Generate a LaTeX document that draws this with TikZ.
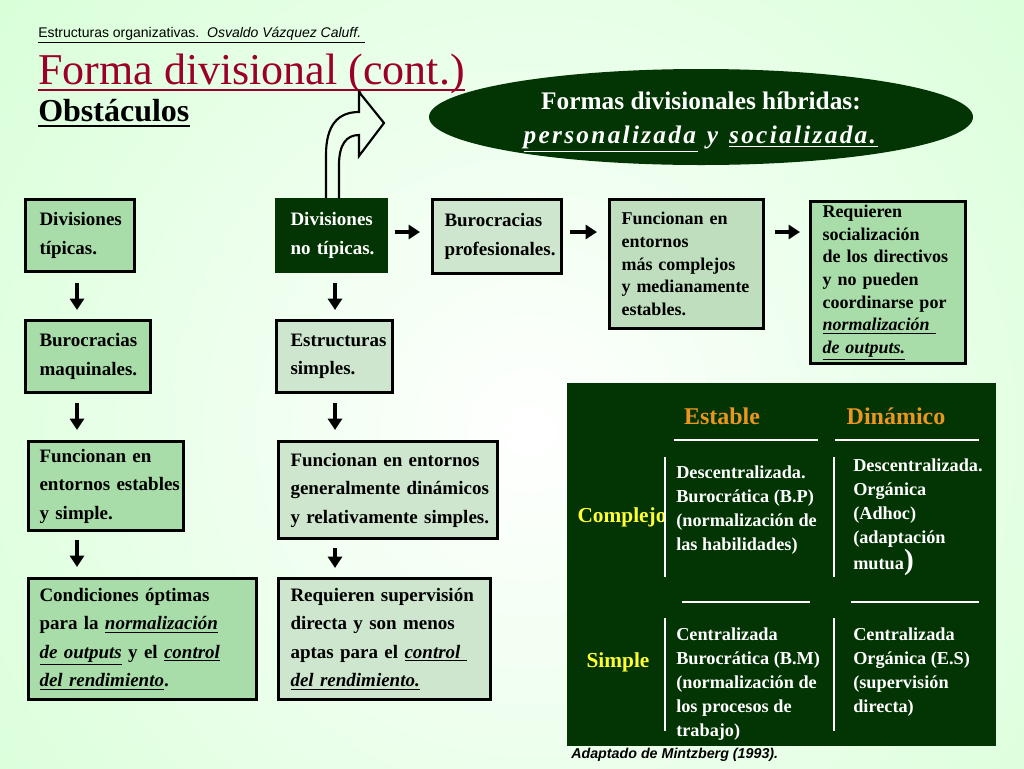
\documentclass[tikz,border=0pt]{standalone}
\usepackage{fontspec}
\setmainfont{Liberation Serif}
\setsansfont{Liberation Sans}
\usetikzlibrary{arrows.meta,shapes.geometric,calc}
\definecolor{bgg}{RGB}{204,255,204}
\definecolor{dkg}{RGB}{3,52,3}
\definecolor{medg}{RGB}{168,220,168}
\definecolor{ltg}{RGB}{206,230,206}
\definecolor{midg}{RGB}{190,222,190}
\definecolor{ttlred}{RGB}{155,0,42}
\definecolor{orng}{RGB}{235,150,30}
\definecolor{yell}{RGB}{255,255,51}
\def\PXU{0.75pt}
\tikzset{
  box/.style={draw=black, line width=2.25pt, anchor=north west, align=left, inner sep=0pt,
    text=black, font=\fontsize{14.25pt}{21.4pt}\selectfont\bfseries},
  smallbox/.style={box, font=\fontsize{13.5pt}{17pt}\selectfont\bfseries},
  arr/.style={line width=3pt, -{Triangle[length=8.5pt,width=10.5pt]}},
  cell/.style={anchor=west, align=left, text=white, inner sep=0pt,
    font=\fontsize{13.7pt}{18pt}\selectfont\bfseries},
  mline/.style={draw=white, line width=1.2pt},
}
\begin{document}
\lefthyphenmin=64 \righthyphenmin=64 \hyphenpenalty=10000 \exhyphenpenalty=10000 \hfuzz=50pt
\begin{tikzpicture}[x=0.75pt,y=-0.75pt]
\useasboundingbox (0,0) rectangle (1024,768);
% background
\begin{scope}
  \clip (0,0) rectangle (1024,768);
  \fill[bgg] (0,0) rectangle (1024,768);
  \shade[inner color=white, outer color=bgg] (530,430) circle (900);
\end{scope}

% header
\node[anchor=west, inner sep=0pt, font=\sffamily\fontsize{10.5pt}{12pt}\selectfont] (hdr) at (38,35)
  {\underline{Estructuras organizativas.\ \ \textit{Osvaldo Vázquez Caluff.}\ }};
\node[anchor=base west, inner sep=0pt, text=ttlred, font=\fontsize{33pt}{36pt}\selectfont] (ttl) at (38,84)
  {Forma divisional (cont.)};
\draw[ttlred, line width=1.5pt] ([yshift=-4.5pt]ttl.base west) -- ([yshift=-4.5pt]ttl.base east);
\node[anchor=base west, inner sep=0pt, font=\fontsize{24pt}{28pt}\selectfont\bfseries] (obs) at (38,121)
  {Obstáculos};
\draw[black, line width=1.5pt] ([yshift=-3.75pt]obs.base west) -- ([yshift=-3.75pt]obs.base east);

% ellipse
\node[ellipse, fill=dkg, minimum width=544*\PXU, minimum height=96*\PXU, inner sep=0pt] (ell) at (701,117) {};
\node[inner sep=0pt, text=white, align=center, font=\fontsize{19pt}{25.5pt}\selectfont\bfseries] (ellt) at (701,122)
  {Formas divisionales híbridas:\\{\addfontfeatures{LetterSpace=9}\underline{\textit{personalizada}} \textit{y} \underline{\textit{socializada.}}}};

% boxes
\node[box, fill=medg, minimum width=109*\PXU, text width=81*\PXU, minimum height=72*\PXU] (b1) at (24,198) {Divisiones\\típicas.};
\node[box, fill=dkg, draw=dkg, text=white, minimum width=110*\PXU, text width=82*\PXU, minimum height=72*\PXU] (b2) at (275,198) {Divisiones\\no~típicas.};
\node[box, fill=ltg, minimum width=129*\PXU, text width=105*\PXU, minimum height=74*\PXU] (b3) at (431,198) {Burocracias\\profesionales.};
\node[smallbox, fill=midg, minimum width=154*\PXU, text width=130*\PXU, minimum height=129*\PXU] (b4) at (608,198)
  {Funcionan~en\\entornos\\más~complejos\\y~medianamente\\estables.};
\node[smallbox, fill=medg, minimum width=155*\PXU, text width=131*\PXU, minimum height=162*\PXU] (b5) at (809,200)
  {Requieren\\socialización\\de~los~directivos\\y~no~pueden\\coordinarse~por\\\underline{\textit{normalización~}}\\\underline{\textit{de~outputs.}}};
\node[box, fill=medg, minimum width=125*\PXU, text width=97*\PXU, minimum height=72*\PXU] (b6) at (24,319) {Burocracias\\maquinales.};
\node[box, fill=ltg, minimum width=116*\PXU, text width=88*\PXU, minimum height=72*\PXU] (b7) at (275,319) {Estructuras\\simples.};
\node[box, fill=medg, minimum width=155*\PXU, text width=133*\PXU, minimum height=89*\PXU] (b8) at (27,440)
  {Funcionan~en\\entornos~estables\\y~simple.};
\node[box, fill=ltg, minimum width=219*\PXU, text width=195*\PXU, minimum height=97*\PXU] (b9) at (277,440)
  {Funcionan~en~entornos\\generalmente~dinámicos\\y~relativamente~simples.};
\node[box, fill=medg, minimum width=228*\PXU, text width=206*\PXU, minimum height=121*\PXU] (b10) at (27,577)
  {Condiciones~óptimas\\para~la~\underline{\textit{normalización}}\\\underline{\textit{de~outputs}}~y~el~\underline{\textit{control}}\\\underline{\textit{del~rendimiento}}.};
\node[box, fill=ltg, minimum width=212*\PXU, text width=188*\PXU, minimum height=121*\PXU] (b11) at (277,577)
  {Requieren~supervisión\\directa~y~son~menos\\aptas~para~el~\underline{\textit{control~}}\\\underline{\textit{del~rendimiento.}}};

% curved block arrow
\draw[line width=1.6pt, line join=miter] (326,198) -- (326,155) .. controls (326,125) and (338,112) .. (359,112)
  -- (359,92) -- (384,123) -- (359,156) -- (359,135) .. controls (346,135) and (339,145) .. (339,165) -- (339,198);

% arrows
\coordinate (cl) at (77,0);
\coordinate (cm) at (335,0);
\coordinate (hy) at (0,232);
\draw[arr, shorten <=7.5pt, shorten >=6.75pt] (b1.south -| cl) -- (b6.north -| cl);
\draw[arr, shorten <=6.75pt, shorten >=7.5pt] (b6.south -| cl) -- (b8.north -| cl);
\draw[arr, shorten <=6pt, shorten >=7.5pt] (b8.south -| cl) -- (b10.north -| cl);
\draw[arr, shorten <=7.5pt, shorten >=6.75pt] (b2.south -| cm) -- (b7.north -| cm);
\draw[arr, shorten <=6.75pt, shorten >=7.5pt] (b7.south -| cm) -- (b9.north -| cm);
\draw[arr, shorten <=6pt, shorten >=6.75pt] (b9.south -| cm) -- (b11.north -| cm);
\draw[arr, shorten <=5.25pt, shorten >=8.25pt] (b2.east |- hy) -- (b3.west |- hy);
\draw[arr, shorten <=5.25pt, shorten >=8.25pt] (b3.east |- hy) -- (b4.west |- hy);
\draw[arr, shorten <=7.5pt, shorten >=6.75pt] (b4.east |- hy) -- (b5.west |- hy);

% matrix
\fill[dkg] (567,383) rectangle (996,746);
\node[text=orng, inner sep=0pt, font=\fontsize{18pt}{20pt}\selectfont\bfseries] (est) at (722,416) {Estable};
\node[text=orng, inner sep=0pt, font=\fontsize{18pt}{20pt}\selectfont\bfseries] (din) at (896,416) {Dinámico};
\node[text=yell, inner sep=0pt, font=\fontsize{16pt}{18pt}\selectfont\bfseries] (cmp) at (622,517) {Complejo};
\node[text=yell, inner sep=0pt, font=\fontsize{16pt}{18pt}\selectfont\bfseries] (smp) at (618,662) {Simple};
\draw[mline] (674,440) -- (818,440);
\draw[mline] (835,440) -- (979,440);
\draw[mline] (682,602) -- (810,602);
\draw[mline] (851,602) -- (979,602);
\draw[mline] (665,457) -- (665,577);
\draw[mline] (834,457) -- (834,577);
\draw[mline] (665,618) -- (665,731);
\draw[mline] (834,618) -- (834,731);
\node[cell] (c11) at (676,510) {Descentralizada.\\Burocrática (B.P)\\(normalización de\\las habilidades)};
\node[cell] (c12) at (853,517) {Descentralizada.\\Orgánica\\(Adhoc)\\(adaptación\\mutua{\fontsize{22pt}{18pt}\selectfont)}};
\node[cell] (c21) at (676,684) {Centralizada\\Burocrática (B.M)\\(normalización de\\los procesos de\\trabajo)};
\node[cell] (c22) at (853,672) {Centralizada\\Orgánica (E.S)\\(supervisión\\directa)};

\node[anchor=west, inner sep=0pt, font=\sffamily\bfseries\itshape\fontsize{10.7pt}{12pt}\selectfont] (src) at (571,755)
  {Adaptado de Mintzberg (1993).};
\end{tikzpicture}
\end{document}
